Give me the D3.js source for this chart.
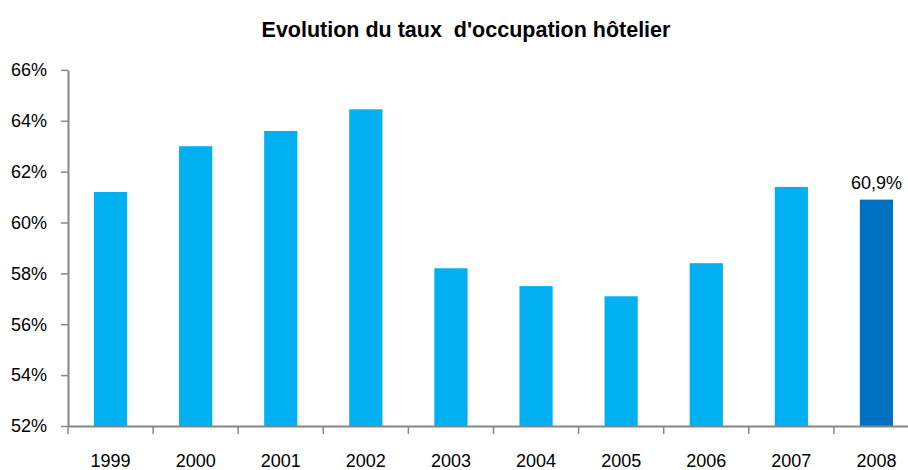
<!DOCTYPE html>
<html><head><meta charset="utf-8">
<script src="https://cdn.jsdelivr.net/npm/d3@7"></script>
<style>body{margin:0;background:#fff}svg{display:block}text{font-family:"Liberation Sans",Arial,sans-serif}</style>
</head><body><svg id="c" width="908" height="470"></svg>
<script>
const years = ["1999","2000","2001","2002","2003","2004","2005","2006","2007","2008"];
const values = [61.2, 63.0, 63.6, 64.45, 58.2, 57.5, 57.1, 58.4, 61.4, 60.9];
const yTicks = [52, 54, 56, 58, 60, 62, 64, 66];
const highlightYear = "2008";
const highlightLabel = "60,9%";
const title = "Evolution du taux  d'occupation hôtelier";

(function () {
const svg = d3.select("#c");
const plotLeft = 68, plotBottom = 426, plotTop = 69.9;
const x = d3.scaleBand().domain(years).range([plotLeft, plotLeft + 85.1 * years.length]).paddingInner(0.61).paddingOuter(0.305);
const y = d3.scaleLinear().domain([52, 66]).range([plotBottom, plotTop]);
const axisColor = "#868686";

svg.append("text").attr("x", 466).attr("y", 37).attr("text-anchor", "middle")
  .attr("font-size", 21.5).attr("font-weight", "bold").attr("fill", "#000").attr("xml:space", "preserve")
  .style("white-space", "pre").text(title);

svg.append("g").selectAll("rect").data(years).join("rect")
  .attr("x", d => x(d)).attr("width", x.bandwidth())
  .attr("y", (d, i) => y(values[i])).attr("height", (d, i) => plotBottom - y(values[i]))
  .attr("fill", d => d === highlightYear ? "#0070C0" : "#00B0F0");

const ya = svg.append("g").attr("transform", `translate(${plotLeft},0)`)
  .call(d3.axisLeft(y).tickValues(yTicks).tickFormat(d => d + "%").tickSize(7).tickPadding(14).tickSizeOuter(0));
ya.select(".domain").attr("stroke", axisColor).attr("stroke-width", 2);
ya.selectAll(".tick line").attr("stroke", axisColor).attr("stroke-width", 1.5);
ya.selectAll(".tick text").attr("font-size", 18).attr("fill", "#000").attr("font-family", '"Liberation Sans",Arial,sans-serif');

const xa = svg.append("g").attr("transform", `translate(0,${plotBottom})`)
  .call(d3.axisBottom(x).tickSize(0).tickPadding(28).tickSizeOuter(0));
xa.select(".domain").attr("stroke", axisColor).attr("stroke-width", 2);
xa.selectAll(".tick text").attr("font-size", 18).attr("fill", "#000").attr("font-family", '"Liberation Sans",Arial,sans-serif');
const step = x.step();
xa.selectAll(".bound").data(years).join("line").attr("class", "bound")
  .attr("x1", d => x(d) - x.paddingOuter() * step).attr("x2", d => x(d) - x.paddingOuter() * step)
  .attr("y1", 0).attr("y2", 8).attr("stroke", axisColor).attr("stroke-width", 1.5);

const hi = years.indexOf(highlightYear);
svg.append("text").attr("x", x(highlightYear) + x.bandwidth() / 2).attr("y", y(values[hi]) - 11)
  .attr("text-anchor", "middle").attr("font-size", 18).attr("fill", "#000").text(highlightLabel);
})();
</script></body></html>
